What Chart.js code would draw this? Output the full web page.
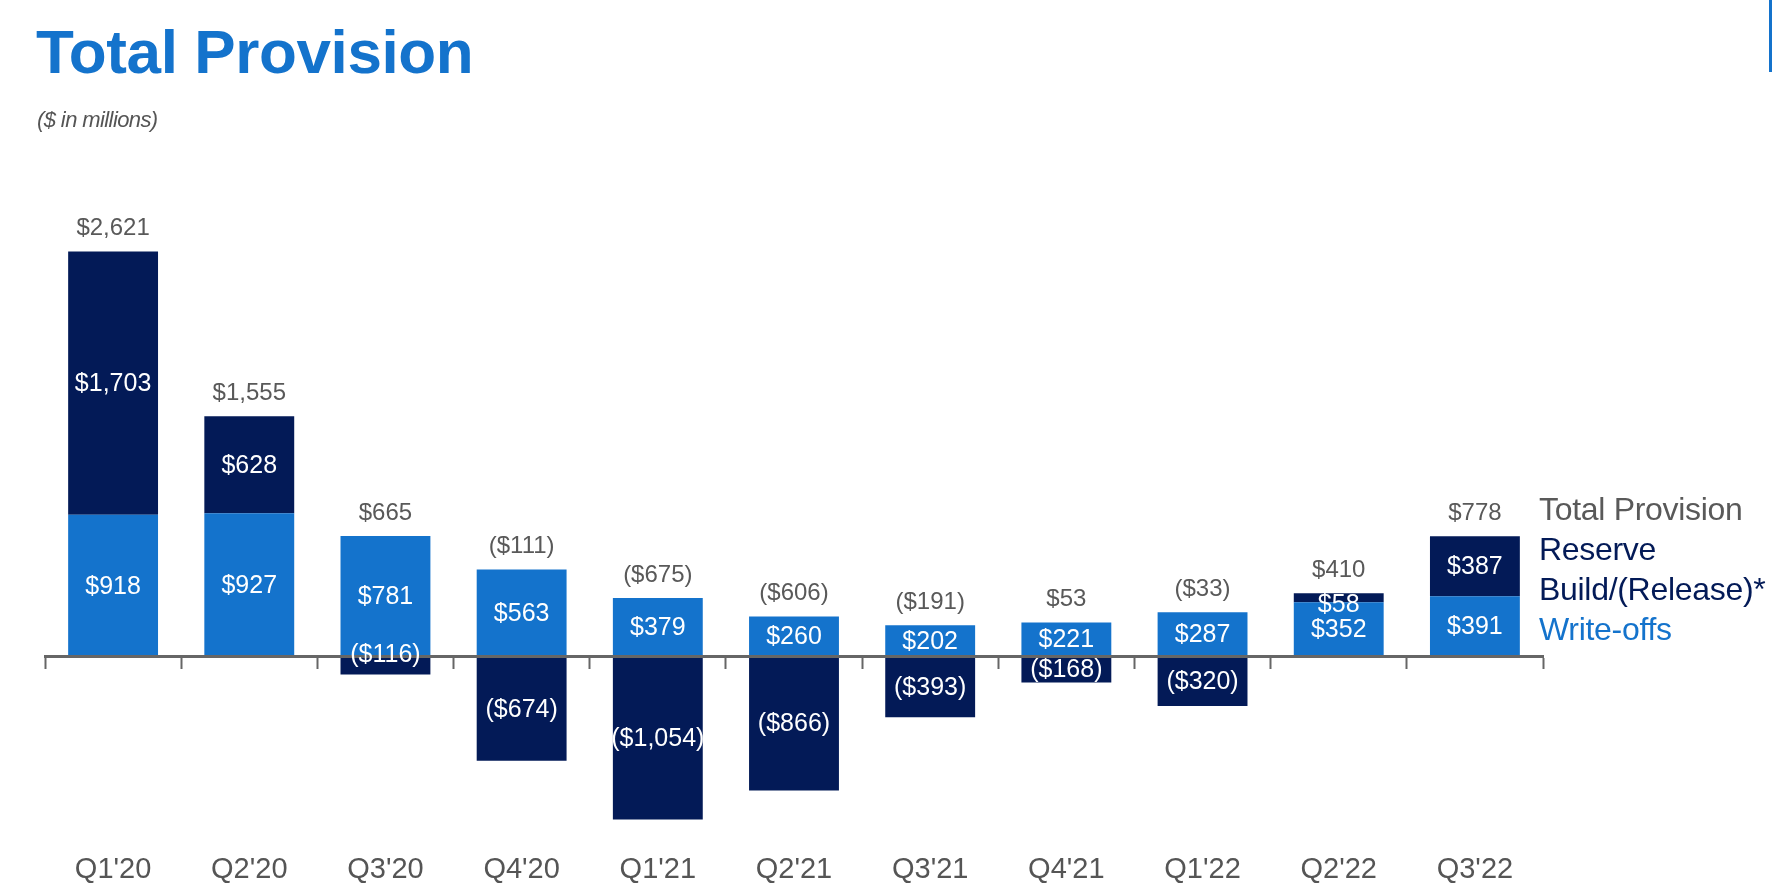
<!DOCTYPE html>
<html>
<head>
<meta charset="utf-8">
<script src="https://cdn.jsdelivr.net/npm/chart.js@4"></script>
<style>
  html, body { margin: 0; padding: 0; background: #fff; }
  #wrap { position: relative; width: 1772px; height: 891px; overflow: hidden; font-family: "Liberation Sans", Arial, sans-serif; }
  #chart { position: absolute; left: 0; top: 0; }
  #title { position: absolute; left: 36px; top: 21px; font-size: 62px; line-height: 62px; font-weight: bold; color: #1473CC; letter-spacing: -0.4px; }
  #subtitle { position: absolute; left: 37px; top: 109px; font-size: 22px; line-height: 22px; font-style: italic; color: #555; letter-spacing: -0.6px; }
  #legend { position: absolute; left: 1539px; top: 489px; font-size: 32px; line-height: 40px; letter-spacing: -0.3px; }
  #legend .tp { color: #595959; }
  #legend .rb { color: #031A57; }
  #legend .wo { color: #1473CC; }
  #edge { position: absolute; left: 1769px; top: 0; width: 3px; height: 72px; background: #1473CC; }
</style>
</head>
<body>
<div id="wrap">
  <canvas id="chart" width="1772" height="891"></canvas>
  <div id="title">Total Provision</div>
  <div id="subtitle">($ in millions)</div>
  <div id="legend">
    <div class="tp">Total Provision</div>
    <div class="rb">Reserve</div>
    <div class="rb">Build/(Release)*</div>
    <div class="wo">Write-offs</div>
  </div>
  <div id="edge"></div>
</div>
<script>
var quarters = ["Q1'20", "Q2'20", "Q3'20", "Q4'20", "Q1'21", "Q2'21", "Q3'21", "Q4'21", "Q1'22", "Q2'22", "Q3'22"];
var writeOffs = [918, 927, 781, 563, 379, 260, 202, 221, 287, 352, 391];
var reserveBuild = [1703, 628, -116, -674, -1054, -866, -393, -168, -320, 58, 387];
var totalProvision = [2621, 1555, 665, -111, -675, -606, -191, 53, -33, 410, 778];

var LIGHT = "#1473CC";
var DARK = "#031A57";
var FONT = "'Liberation Sans', Arial, sans-serif";

var fmt = function (v) {
    var s = "$" + Math.abs(v).toLocaleString("en-US");
    return v < 0 ? "(" + s + ")" : s;
};

// labels inside each segment and the total above each column
var labelPlugin = {
    id: "valueLabels",
    afterDraw: function (chart) {
        var ctx = chart.ctx;
        var y = chart.scales.y;
        ctx.save();
        ctx.textAlign = "center";
        ctx.textBaseline = "middle";
        ctx.font = "25px " + FONT;
        ctx.fillStyle = "#fff";
        chart.data.datasets.forEach(function (ds, di) {
            var meta = chart.getDatasetMeta(di);
            meta.data.forEach(function (bar, i) {
                var v = ds.data[i];
                var top = Math.min(bar.y, bar.base);
                var bot = Math.max(bar.y, bar.base);
                var cy = (top + bot) / 2;
                if (bot - top < 24) {
                    cy = v > 0 ? top + 11 : bar.base - 2;
                }
                ctx.fillText(fmt(v), bar.x, cy + 1);
            });
        });
        // totals
        ctx.font = "24px " + FONT;
        ctx.fillStyle = "#595959";
        var meta0 = chart.getDatasetMeta(0);
        totalProvision.forEach(function (t, i) {
            var pos = 0;
            if (writeOffs[i] > 0) pos += writeOffs[i];
            if (reserveBuild[i] > 0) pos += reserveBuild[i];
            var py = y.getPixelForValue(pos);
            ctx.fillText(fmt(t), meta0.data[i].x, py - 23);
        });
        ctx.restore();
    }
};

new Chart(document.getElementById("chart"), {
    type: "bar",
    data: {
        labels: quarters,
        datasets: [
            { label: "Write-offs", data: writeOffs, backgroundColor: LIGHT, xAxisID: "x" },
            { label: "Reserve Build/(Release)*", data: reserveBuild, backgroundColor: DARK, xAxisID: "x" }
        ]
    },
    options: {
        responsive: false,
        animation: false,
        layout: { padding: { left: 45, right: 229, top: 193, bottom: 0 } },
        datasets: { bar: { categoryPercentage: 1, barPercentage: 0.66 } },
        plugins: { legend: { display: false }, tooltip: { enabled: false } },
        scales: {
            x: {
                stacked: true,
                position: "bottom",
                grid: { display: false, drawTicks: false },
                border: { display: false },
                ticks: { color: "#555", padding: 4, font: { family: FONT, size: 29 } }
            },
            x2: {
                type: "category",
                labels: quarters,
                position: { y: 0 },
                grid: { display: true, drawOnChartArea: false, drawTicks: true, tickLength: 11, tickWidth: 2, color: "#666", offset: true },
                border: { display: true, color: "#666", width: 3, z: 1 },
                ticks: { display: false },
                z: 1
            },
            y: {
                stacked: true,
                display: false,
                min: -1240,
                max: 3000
            }
        }
    },
    plugins: [labelPlugin]
});
</script>
</body>
</html>
